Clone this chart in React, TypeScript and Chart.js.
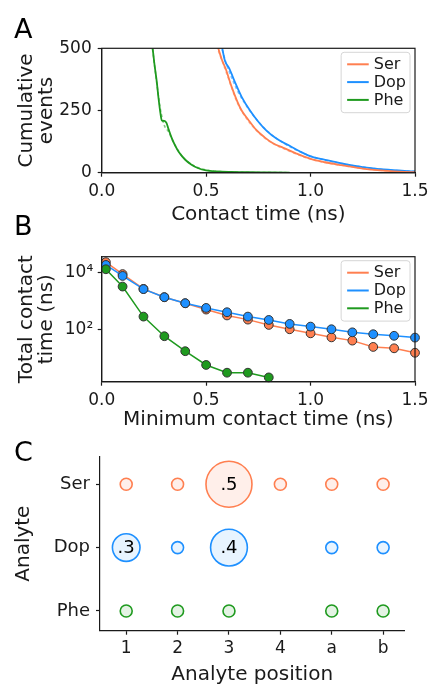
import React, { useEffect, useRef } from 'react';
import { Chart, registerables } from 'chart.js';

Chart.register(...registerables);

const FONT = "'DejaVu Sans', sans-serif";
const INK = '#1a1a1a';
const SER_C = '#ff7f50';
const DOP_C = '#1e90ff';
const PHE_C = '#1f9a1f';
const SER_FIT_C = 'rgba(255,127,80,0.55)';
const DOP_FIT_C = 'rgba(30,144,255,0.55)';
const PHE_FIT_C = 'rgba(31,154,31,0.55)';

// ---------- Panel A: cumulative events vs contact time ----------
const aXTicks = [0, 0.5, 1.0, 1.5];
const aXLabels = ['0.0', '0.5', '1.0', '1.5'];
const aYTicks = [0, 250, 500];
const aYLabels = ['0', '250', '500'];

const serTimeA = [0.558, 0.575, 0.595, 0.62, 0.65, 0.67, 0.70, 0.74, 0.78, 0.82, 0.87, 0.93, 1.0, 1.07, 1.15, 1.25, 1.35, 1.45, 1.5];
const serEventsA = [500, 455, 415, 350, 285, 250, 215, 172, 142, 118, 100, 78, 56, 42, 30, 16, 8, 3, 2];
const dopTimeA = [0.577, 0.59, 0.61, 0.64, 0.67, 0.71, 0.75, 0.79, 0.84, 0.90, 0.95, 1.0, 1.07, 1.15, 1.25, 1.35, 1.45, 1.5];
const dopEventsA = [500, 450, 420, 360, 305, 250, 205, 168, 135, 108, 85, 66, 52, 37, 22, 13, 7, 5];
const pheTimeA = [0.244, 0.252, 0.263, 0.272, 0.281, 0.288, 0.30, 0.31, 0.32, 0.335, 0.35, 0.37, 0.40, 0.43, 0.46, 0.50, 0.55, 0.62, 0.7, 0.8, 0.9];
const pheEventsA = [500, 440, 370, 300, 240, 210, 208, 200, 175, 140, 112, 82, 52, 32, 19, 9, 5, 3, 2, 1, 0];

const serFitTimeA = [0.55, 0.6, 0.65, 0.7, 0.75, 0.8, 0.9, 1.0, 1.1, 1.2, 1.3, 1.4, 1.5];
const serFitEventsA = [510, 395, 280, 210, 162, 128, 86, 55, 36, 23, 12, 6, 3];
const dopFitTimeA = [0.57, 0.6, 0.65, 0.7, 0.75, 0.8, 0.9, 1.0, 1.1, 1.2, 1.3, 1.4, 1.5];
const dopFitEventsA = [515, 430, 330, 260, 205, 162, 105, 67, 45, 29, 17, 9, 5];
const pheFitTimeA = [0.24, 0.26, 0.28, 0.30, 0.32, 0.34, 0.36, 0.38, 0.40, 0.45, 0.5, 0.6, 0.7, 0.9];
const pheFitEventsA = [520, 385, 260, 190, 165, 128, 98, 72, 53, 24, 11, 3, 1, 0];

// ---------- Panel B: total contact time vs minimum contact time ----------
const bXTicks = [0, 0.5, 1.0, 1.5];
const bXLabels = ['0.0', '0.5', '1.0', '1.5'];
const bYTicks = [100, 10000];
const bYLabels = ['10²', '10⁴'];
const bYMin = 1.45;
const bYMax = 35000;

const minTimeB = [0.02, 0.1, 0.2, 0.3, 0.4, 0.5, 0.6, 0.7, 0.8, 0.9, 1.0, 1.1, 1.2, 1.3, 1.4, 1.5];
const serTotalB = [22500, 8600, 2600, 1330, 816, 490, 305, 218, 142, 100, 72, 52, 40, 24, 21.5, 15];
const dopTotalB = [18000, 7400, 2560, 1330, 816, 560, 395, 278, 212, 154, 124, 100, 78, 67, 59, 51];
const pheTotalB = [12700, 3140, 278, 57, 17, 5.6, 3.0, 3.0, 2.05];

// ---------- Panel C: analyte vs analyte position ----------
const positionsC = ['1', '2', '3', '4', 'a', 'b'];
const analytesC = ['Phe', 'Dop', 'Ser'];
const serFracC = [0.13, 0.13, 0.5, 0.13, 0.13, 0.13];
const dopFracC = [0.3, 0.13, 0.4, null, 0.13, 0.13];
const pheFracC = [0.13, 0.13, 0.13, null, 0.13, 0.13];

// ---------- helpers ----------
const pts = (xs: number[], ys: number[]) => xs.map((x, i) => ({ x, y: ys[i] }));

function axis(o: any) {
  const horizontal = o.pos === 'bottom';
  return {
    type: o.type || 'linear',
    position: o.pos,
    min: o.min,
    max: o.max,
    afterBuildTicks: (s: any) => {
      s.ticks = o.ticks.map((v: number) => ({ value: v }));
    },
    ticks: {
      callback: (v: number) => {
        const i = o.ticks.findIndex((t: number) => Math.abs(t - v) < 1e-9 * Math.max(1, Math.abs(t)));
        return i >= 0 ? o.labels[i] : '';
      },
      font: { family: FONT, size: o.tickSize || 17 },
      color: INK,
      padding: o.tickPad,
      maxRotation: 0,
      autoSkip: false,
    },
    grid: { drawOnChartArea: false, drawTicks: true, tickLength: 4, tickWidth: 1.2, tickColor: INK },
    border: { display: true, color: INK, width: 1.2 },
    title: {
      display: true,
      text: o.title,
      font: { family: FONT, size: 20, lineHeight: 1 },
      color: INK,
      padding: horizontal ? { top: 0, bottom: o.titlePad } : { top: o.titlePad, bottom: 0 },
    },
    afterFit: (s: any) => {
      if (horizontal) s.height = o.size;
      else s.width = o.size;
      s.paddingLeft = 0;
      s.paddingRight = 0;
      s.paddingTop = 0;
      s.paddingBottom = 0;
    },
  };
}

const framePlugin = {
  id: 'frameBox',
  afterDraw(chart: any) {
    const { ctx, chartArea: a } = chart;
    ctx.save();
    ctx.strokeStyle = INK;
    ctx.lineWidth = 1.2;
    ctx.strokeRect(a.left, a.top, a.right - a.left, a.bottom - a.top);
    ctx.restore();
  },
};

const legendPlugin = {
  id: 'boxLegend',
  afterDraw(chart: any) {
    const { ctx, chartArea } = chart;
    const items = chart.data.datasets.filter((d: any) => d.inLegend);
    const rowH = 17.8;
    const lineLen = 21.6;
    ctx.save();
    ctx.font = `16px ${FONT}`;
    const textW = Math.max(...items.map((d: any) => ctx.measureText(d.label).width));
    const w = 6 + lineLen + 5 + textW + 4;
    const h = items.length * rowH + 7;
    const x0 = chartArea.right - 5 - w;
    const y0 = chartArea.top + 4;
    ctx.beginPath();
    ctx.roundRect(x0, y0, w, h, 3);
    ctx.fillStyle = 'rgba(255,255,255,0.85)';
    ctx.fill();
    ctx.strokeStyle = '#d6d6d6';
    ctx.lineWidth = 1;
    ctx.stroke();
    items.forEach((d: any, i: number) => {
      const y = y0 + 12 + i * rowH;
      ctx.beginPath();
      ctx.moveTo(x0 + 6, y);
      ctx.lineTo(x0 + 6 + lineLen, y);
      ctx.strokeStyle = d.borderColor;
      ctx.lineWidth = 2;
      ctx.stroke();
      ctx.fillStyle = INK;
      ctx.textBaseline = 'middle';
      ctx.textAlign = 'left';
      ctx.fillText(d.label, x0 + 6 + lineLen + 5, y + 0.5);
    });
    ctx.restore();
  },
};

const bubbleLabelPlugin = {
  id: 'bubbleLabels',
  afterDatasetsDraw(chart: any) {
    const { ctx } = chart;
    ctx.save();
    ctx.font = `18px ${FONT}`;
    ctx.fillStyle = '#000';
    ctx.textAlign = 'center';
    ctx.textBaseline = 'middle';
    chart.data.datasets.forEach((ds: any, di: number) => {
      const meta = chart.getDatasetMeta(di);
      ds.data.forEach((p: any, i: number) => {
        if (p.v >= 0.3) {
          const el = meta.data[i];
          ctx.fillText(p.v.toFixed(1).replace(/^0/, ''), el.x, el.y + 1);
        }
      });
    });
    ctx.restore();
  },
};

const solid = (label: string, xs: number[], ys: number[], color: string) => ({
  label,
  inLegend: true,
  data: pts(xs, ys),
  borderColor: color,
  backgroundColor: color,
  borderWidth: 1.8,
  pointRadius: 0,
  cubicInterpolationMode: 'monotone',
  order: 1,
});

const dashed = (label: string, xs: number[], ys: number[], color: string) => ({
  label,
  inLegend: false,
  data: pts(xs, ys),
  borderColor: color,
  backgroundColor: color,
  borderWidth: 1.6,
  borderDash: [3, 2.5],
  pointRadius: 0,
  cubicInterpolationMode: 'monotone',
  order: 2,
});

const baseOptions = (padding: any) => ({
  animation: false,
  responsive: false,
  maintainAspectRatio: false,
  events: [],
  layout: { padding },
  plugins: { legend: { display: false }, tooltip: { enabled: false } },
});

function makeA(): any {
  return {
    type: 'line',
    data: {
      datasets: [
        dashed('Ser fit', serFitTimeA, serFitEventsA, SER_FIT_C),
        dashed('Dop fit', dopFitTimeA, dopFitEventsA, DOP_FIT_C),
        dashed('Phe fit', pheFitTimeA, pheFitEventsA, PHE_FIT_C),
        solid('Ser', serTimeA, serEventsA, SER_C),
        solid('Dop', dopTimeA, dopEventsA, DOP_C),
        solid('Phe', pheTimeA, pheEventsA, PHE_C),
      ],
    },
    options: {
      ...baseOptions({ left: 0, top: 48.3, right: 14, bottom: 0 }),
      scales: {
        x: axis({ pos: 'bottom', min: 0, max: 1.5, ticks: aXTicks, labels: aXLabels, title: 'Contact time (ns)', size: 55.3, tickPad: 5, titlePad: 3.2 }),
        y: axis({ pos: 'left', min: 0, max: 500, ticks: aYTicks, labels: aYLabels, title: ['Cumulative', 'events'], size: 101.7, tickPad: 6, titlePad: 16.4 }),
      },
    },
    plugins: [framePlugin, legendPlugin],
  };
}

const markerDs = (label: string, ys: number[], color: string, order: number) => ({
  label,
  inLegend: true,
  data: pts(minTimeB.slice(0, ys.length), ys),
  borderColor: color,
  backgroundColor: color,
  borderWidth: 1.5,
  pointRadius: 4.4,
  pointBackgroundColor: color,
  pointBorderColor: '#333',
  pointBorderWidth: 1,
  order,
});

function makeB(): any {
  return {
    type: 'line',
    data: {
      datasets: [
        markerDs('Ser', serTotalB, SER_C, 3),
        markerDs('Dop', dopTotalB, DOP_C, 2),
        markerDs('Phe', pheTotalB, PHE_C, 1),
      ],
    },
    options: {
      ...baseOptions({ left: 0, top: 28.7, right: 14, bottom: 0 }),
      clip: false,
      scales: {
        x: axis({ pos: 'bottom', min: 0, max: 1.5, ticks: bXTicks, labels: bXLabels, title: 'Minimum contact time (ns)', size: 50.3, tickPad: 4.4, titlePad: 2 }),
        y: axis({ type: 'logarithmic', pos: 'left', min: bYMin, max: bYMax, ticks: bYTicks, labels: bYLabels, title: ['Total contact', 'time (ns)'], size: 101.7, tickPad: 4.5, titlePad: 16.4 }),
      },
    },
    plugins: [framePlugin, legendPlugin],
  };
}

const BUBBLE_PX_PER_UNIT = 46;

const bubbleDs = (label: string, row: number, fracs: (number | null)[], color: string, fill: string) => ({
  label,
  data: fracs
    .map((v, i) => (v == null ? null : { x: i + 1, y: row, r: v * BUBBLE_PX_PER_UNIT, v }))
    .filter((p) => p !== null),
  borderColor: color,
  backgroundColor: fill,
  borderWidth: 1.6,
});

function makeC(): any {
  const rowOf = (name: string) => analytesC.indexOf(name);
  return {
    type: 'bubble',
    data: {
      datasets: [
        bubbleDs('Ser', rowOf('Ser'), serFracC, SER_C, 'rgba(255,127,80,0.12)'),
        bubbleDs('Dop', rowOf('Dop'), dopFracC, DOP_C, 'rgba(30,144,255,0.1)'),
        bubbleDs('Phe', rowOf('Phe'), pheFracC, PHE_C, 'rgba(31,154,31,0.12)'),
      ],
    },
    options: {
      ...baseOptions({ left: 0, top: 22.3, right: 0, bottom: 0 }),
      clip: false,
      scales: {
        x: axis({ pos: 'bottom', min: 0.49, max: 6.414, ticks: positionsC.map((_, i) => i + 1), labels: positionsC, title: 'Analyte position', size: 58.3, tickPad: 4.1, titlePad: 4 }),
        y: axis({ pos: 'left', min: -0.311, max: 2.436, ticks: analytesC.map((_, i) => i), labels: analytesC, title: 'Analyte', size: 100, tickPad: 6, titlePad: 14, tickSize: 18 }),
      },
    },
    plugins: [bubbleLabelPlugin],
  };
}

function ChartCanvas({ top, height, make }: { top: number; height: number; make: () => any }) {
  const ref = useRef<HTMLCanvasElement>(null);
  useEffect(() => {
    const chart = new Chart(ref.current as HTMLCanvasElement, make());
    return () => chart.destroy();
  }, []);
  return (
    <canvas
      ref={ref}
      width={429}
      height={height}
      style={{ position: 'absolute', left: 0, top, width: 429, height }}
    />
  );
}

const letterStyle = (top: number): React.CSSProperties => ({
  position: 'absolute',
  left: 14,
  top,
  fontFamily: FONT,
  fontSize: 27,
  lineHeight: '27px',
  color: '#000',
});

export default function App() {
  return (
    <div style={{ position: 'fixed', left: 0, top: 0, width: 429, height: 689, background: '#fff', overflow: 'hidden' }}>
      <ChartCanvas top={0} height={228} make={makeA} />
      <ChartCanvas top={228} height={204} make={makeB} />
      <ChartCanvas top={432} height={257} make={makeC} />
      <div style={letterStyle(15.4)}>A</div>
      <div style={letterStyle(212.1)}>B</div>
      <div style={letterStyle(437.6)}>C</div>
    </div>
  );
}
